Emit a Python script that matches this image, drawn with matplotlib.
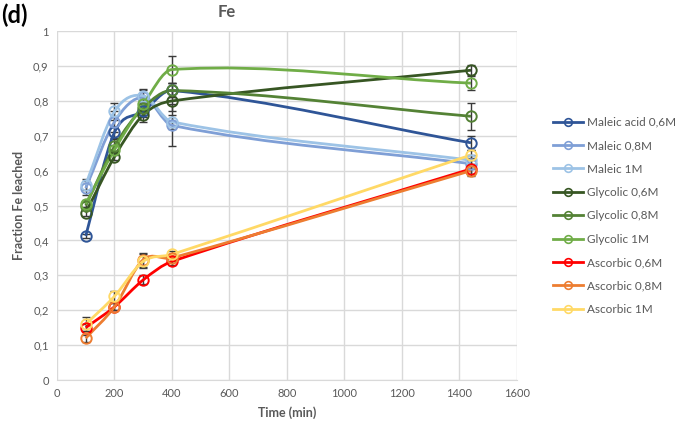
import numpy as np
import matplotlib
matplotlib.use("Agg")
import matplotlib.pyplot as plt
from matplotlib.path import Path
from matplotlib.patches import PathPatch
from matplotlib.ticker import FuncFormatter

plt.rcParams['font.family'] = ['Lato', 'DejaVu Sans']

# data
time_min = [100, 200, 300, 400, 1440]

labels = ['Maleic acid 0,6M', 'Maleic 0,8M', 'Maleic 1M',
          'Glycolic 0,6M', 'Glycolic 0,8M', 'Glycolic 1M',
          'Ascorbic 0,6M', 'Ascorbic 0,8M', 'Ascorbic 1M']

maleic_06 = [0.413, 0.71, 0.77, 0.83, 0.68]
maleic_08 = [0.55, 0.74, 0.81, 0.73, 0.62]
maleic_1 = [0.56, 0.77, 0.815, 0.74, 0.63]
glycolic_06 = [0.48, 0.64, 0.76, 0.80, 0.888]
glycolic_08 = [0.50, 0.67, 0.78, 0.83, 0.756]
glycolic_1 = [0.505, 0.66, 0.79, 0.89, 0.851]
ascorbic_06 = [0.15, 0.21, 0.287, 0.34, 0.605]
ascorbic_08 = [0.12, 0.21, 0.345, 0.35, 0.60]
ascorbic_1 = [0.16, 0.24, 0.34, 0.36, 0.645]

err_maleic_06 = [0.005, 0.015, 0.015, 0.02, 0.02]
err_maleic_08 = [0.02, 0.03, 0.02, 0.06, 0.015]
err_maleic_1 = [0.015, 0.025, 0.02, 0.02, 0.015]
err_glycolic_06 = [0.01, 0.01, 0.02, 0.03, 0.015]
err_glycolic_08 = [0.01, 0.02, 0.02, 0.02, 0.038]
err_glycolic_1 = [0.01, 0.015, 0.02, 0.04, 0.02]
err_ascorbic_06 = [0.01, 0.01, 0.013, 0.01, 0.015]
err_ascorbic_08 = [0.01, 0.01, 0.02, 0.01, 0.015]
err_ascorbic_1 = [0.02, 0.015, 0.02, 0.01, 0.015]

series = [maleic_06, maleic_08, maleic_1, glycolic_06, glycolic_08, glycolic_1,
          ascorbic_06, ascorbic_08, ascorbic_1]
errors = [err_maleic_06, err_maleic_08, err_maleic_1, err_glycolic_06, err_glycolic_08,
          err_glycolic_1, err_ascorbic_06, err_ascorbic_08, err_ascorbic_1]
colors = ['#2F5597', '#7F9FD6', '#9DC3E6', '#375623', '#548235', '#70AD47',
          '#FF0000', '#ED7D31', '#FFD966']


def smooth_path(x, y):
    # cubic bezier through the points (Excel style "smoothed line")
    x = np.asarray(x, float)
    y = np.asarray(y, float)
    n = len(x)
    slope = np.zeros(n)
    slope[0] = (y[1] - y[0]) / (x[1] - x[0])
    slope[-1] = (y[-1] - y[-2]) / (x[-1] - x[-2])
    for i in range(1, n - 1):
        slope[i] = (y[i + 1] - y[i - 1]) / (x[i + 1] - x[i - 1])
    verts = [(x[0], y[0])]
    codes = [Path.MOVETO]
    for i in range(n - 1):
        h = (x[i + 1] - x[i]) / 3.0
        verts += [(x[i] + h, y[i] + slope[i] * h),
                  (x[i + 1] - h, y[i + 1] - slope[i + 1] * h),
                  (x[i + 1], y[i + 1])]
        codes += [Path.CURVE4] * 3
    return Path(verts, codes)


fig = plt.figure(figsize=(6.85, 4.33), dpi=100)
ax = fig.add_axes([0.0832, 0.1224, 0.6715, 0.8056])

grid_c = '#D9D9D9'
text_c = '#595959'

for vals, err, c, lab in zip(series, errors, colors, labels):
    ax.add_patch(PathPatch(smooth_path(time_min, vals), facecolor='none',
                           edgecolor=c, lw=2.0, zorder=3))
    ax.errorbar(time_min, vals, yerr=err, fmt='none', ecolor='#3A3A3A',
                elinewidth=1.0, capsize=3, capthick=1.0, zorder=2)
    ax.plot(time_min, vals, ls='none', marker='o', ms=7.5, mfc='none',
            mec=c, mew=1.4, zorder=4)
    ax.plot([], [], color=c, lw=2.0, marker='o', ms=5.5, mfc='none', mec=c,
            mew=1.2, label=lab)

ax.set_xlim(0, 1600)
ax.set_ylim(0, 1)
ax.set_xticks(np.arange(0, 1601, 200))
ax.set_yticks(np.arange(0, 1.01, 0.1))
ax.yaxis.set_major_formatter(FuncFormatter(
    lambda v, p: '0' if abs(v) < 1e-9 else ('1' if abs(v - 1) < 1e-9 else ('%.1f' % v).replace('.', ','))))
ax.grid(True, color=grid_c, lw=1.0)
ax.set_axisbelow(True)
for s in ['top', 'right', 'left']:
    ax.spines[s].set_visible(False)
ax.spines['bottom'].set_color(grid_c)
ax.tick_params(length=0, labelsize=8, colors=text_c, pad=6)

ax.set_xlabel('Time (min)', fontsize=9, fontweight='bold', color=text_c, labelpad=5)
ax.set_ylabel('Fraction Fe leached', fontsize=9, fontweight='bold', color=text_c, labelpad=6)

fig.text(227 / 685, 1 - 12 / 433, 'Fe', ha='center', va='center',
         fontsize=12, fontweight='bold', color=text_c)
fig.text(0.002, 1 - 15 / 433, '(d)', ha='left', va='center',
         fontsize=17, fontweight='bold', color='black')

fig.legend(loc='upper left', bbox_to_anchor=(548 / 685, 1 - 112 / 433),
           frameon=False, fontsize=8.5, labelcolor=text_c, handlelength=2.6,
           handletextpad=0.3, labelspacing=1.05, borderaxespad=0)

fig.savefig('out.png', dpi=100)
